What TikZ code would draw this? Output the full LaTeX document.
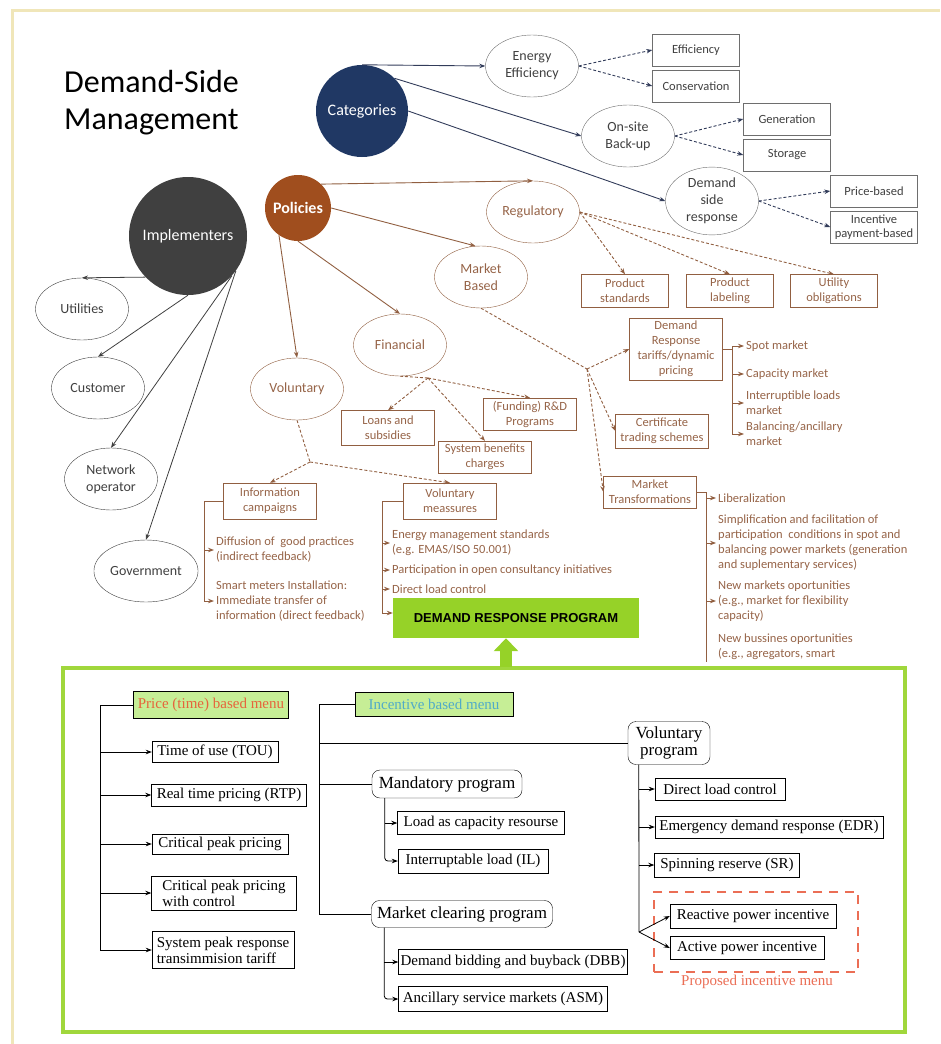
\documentclass[tikz,border=0pt]{standalone}
\usepackage{fontspec}
\setmainfont{Carlito}
\newfontfamily\timesfont{Liberation Serif}
\newfontfamily\arialfont{Liberation Sans}
\usepackage{tikz}
\usetikzlibrary{arrows.meta}
\usetikzlibrary{shapes.geometric}
\definecolor{beige}{RGB}{240,230,185}
\definecolor{catblue}{RGB}{32,56,100}
\definecolor{polbrown}{RGB}{160,78,30}
\definecolor{impgray}{RGB}{64,64,64}
\definecolor{darktext}{RGB}{64,64,64}
\definecolor{boxgray}{RGB}{110,110,110}
\definecolor{catline}{RGB}{50,60,90}
\definecolor{polline}{RGB}{145,95,65}
\definecolor{poltext}{RGB}{150,100,72}
\definecolor{drgreen}{RGB}{150,210,40}
\definecolor{framegreen}{RGB}{160,215,60}
\definecolor{menugreen}{RGB}{198,238,150}
\definecolor{priceorange}{RGB}{230,100,60}
\definecolor{incteal}{RGB}{80,170,200}
\definecolor{propred}{RGB}{235,110,85}

\begin{document}
\begin{tikzpicture}[x=1pt,y=-1pt]
	\useasboundingbox (0,0) rectangle (940,1044);
	\draw[beige, line width=3pt] (12,1044) -- (12,10) -- (940,10);

	\node[font=\fontsize{32}{37}\selectfont, align=left, anchor=north west, inner sep=0pt] (title) at (64,70) {Demand-Side\\Management};

	\begin{scope}[every node/.style={circle, inner sep=0pt, text=white, font=\fontsize{16}{18}\selectfont}]
		\node[fill=catblue, minimum size=92pt] (cat) at (362,111) {Categories};
		\node[fill=polbrown, minimum size=66pt] (pol) at (298,208) {\bfseries Policies};
		\node[fill=impgray, minimum size=118pt] (imp) at (188,236) {Implementers};
	\end{scope}

	\begin{scope}[every node/.style={draw=boxgray, text=darktext, align=center, inner sep=1pt},
	              oval/.style={ellipse, minimum width=93pt, minimum height=62pt, font=\fontsize{14}{17}\selectfont},
	              tag/.style={rectangle, minimum width=87pt, minimum height=32pt, font=\fontsize{12.5}{14}\selectfont}]
		\node[oval] (ee) at (532,66) {Energy\\Efficiency};
		\node[oval] (osb) at (628,136) {On-site\\Back-up};
		\node[oval] (dsr) at (712,201) {Demand\\side\\response};
		\node[tag] (eff) at (696,50) {Efficiency};
		\node[tag] (con) at (696,86) {Conservation};
		\node[tag] (gen) at (787,119) {Generation};
		\node[tag] (sto) at (787,155) {Storage};
		\node[tag] (prb) at (874,191) {Price-based};
		\node[tag] (ipb) at (874,227) {Incentive\\payment-based};
		\node[oval, draw=impgray] (utl) at (82,309) {Utilities};
		\node[oval, draw=impgray] (cus) at (98,388) {Customer};
		\node[oval, draw=impgray] (net) at (111,479) {Network\\operator};
		\node[oval, draw=impgray] (gov) at (146,571) {Government};
	\end{scope}

	\begin{scope}[>={Stealth[length=6pt,width=4.5pt]},
	              every edge/.style={draw=catline, line width=0.9pt}]
		\path (cat.north) edge[->] (ee.west);
		\path (cat.45) edge[->] (osb.west);
		\path (cat.east) edge[->] (dsr.west);
		\path (ee.east) edge[->, dash pattern=on 3pt off 2pt] (eff.west);
		\path (ee.east) edge[->, dash pattern=on 3pt off 2pt] (con.west);
		\path (osb.east) edge[->, dash pattern=on 3pt off 2pt] (gen.west);
		\path (osb.east) edge[->, dash pattern=on 3pt off 2pt] (sto.west);
		\path (dsr.east) edge[->, dash pattern=on 3pt off 2pt] (prb.west);
		\path (dsr.east) edge[->, dash pattern=on 3pt off 2pt] (ipb.west);
	\end{scope}

	\begin{scope}[>={Stealth[length=6pt,width=4.5pt]},
	              every edge/.style={draw=impgray, line width=0.8pt}]
		\path (imp.224) edge[->] (utl.north);
		\path (imp.south) edge[->] (cus.north);
		\path (imp.318) edge[->] (net.north);
		\path (imp.324) edge[->] (gov.north);
	\end{scope}

	\begin{scope}[every node/.style={draw=polline, text=poltext, align=center, inner sep=1pt},
	              oval/.style={ellipse, minimum width=93pt, minimum height=62pt, font=\fontsize{14}{17}\selectfont},
	              tag/.style={rectangle, minimum width=93pt, minimum height=32pt, font=\fontsize{12.5}{15}\selectfont}]
		\node[oval] (reg) at (533,212) {Regulatory};
		\node[oval] (mb) at (481,277) {Market\\Based};
		\node[oval] (fin) at (400,345) {Financial};
		\node[oval] (vol) at (297,389) {Voluntary};
		\node[tag, minimum width=87pt, minimum height=33pt] (ps) at (625,291) {Product\\standards};
		\node[tag, minimum width=87pt, minimum height=33pt] (pl) at (730,291) {Product\\labeling};
		\node[tag, minimum width=87pt, minimum height=33pt] (uo) at (834,291) {Utility\\obligations};
		\node[tag, minimum height=62pt] (drt) at (676,349) {Demand\\Response\\tariffs/dynamic\\pricing};
		\node[tag, minimum height=34pt] (cts) at (662,431) {Certificate\\trading schemes};
		\node[tag] (mt) at (650,492) {Market\\Transformations};
		\node[tag, minimum height=35pt] (las) at (388,428) {Loans and\\subsidies};
		\node[tag] (rd) at (530,414) {(Funding) R\&D\\Programs};
		\node[tag] (sbc) at (485,457) {System benefits\\charges};
		\node[tag, minimum height=36pt] (ic) at (270,501) {Information\\campaigns};
		\node[tag, minimum height=36pt] (vm) at (450,501) {Voluntary\\meassures};
	\end{scope}

	\begin{scope}[every node/.style={text=poltext, anchor=west, align=left, inner sep=2pt, font=\fontsize{12.5}{15}\selectfont}]
		\node (spm) at (744,346) {Spot market};
		\node (cpm) at (744,374) {Capacity market};
		\node (ilm) at (744,403) {Interruptible loads\\market};
		\node (bam) at (744,434) {Balancing/ancillary\\market};
		\node (dgp) at (214,550) {Diffusion of\ \ good practices\\(indirect feedback)};
		\node (smi) at (214,601) {Smart meters Installation:\\Immediate transfer of\\information (direct feedback)};
		\node (ems) at (390,543) {Energy management standards\\(e.g. EMAS/ISO 50.001)};
		\node (poc) at (390,570) {Participation in open consultancy initiatives};
		\node (dlc) at (390,589) {Direct load control};
		\node (lib) at (716,498) {Liberalization};
		\node (sfp) at (716,543) {Simplification and facilitation of\\participation\ \ conditions in spot and\\balancing power markets (generation\\and suplementary services)};
		\node (nmo) at (716,601) {New markets oportunities\\(e.g., market for flexibility\\capacity)};
		\begin{scope}
			\clip (700,620) rectangle (940,660);
			\node[anchor=north west] (nbo) at (716,632) {New bussines oportunities\\(e.g., agregators, smart};
		\end{scope}
	\end{scope}

	\coordinate (mbj) at (587,369);
	\coordinate (finj) at (428,378);
	\coordinate (volj) at (310,462);
	\coordinate (drtrail) at (732,346);
	\coordinate (icrail) at (204,501);
	\coordinate (vmrail) at (382,501);
	\coordinate (mtrail) at (706,492);

	\begin{scope}[>={Stealth[length=6pt,width=4.5pt]},
	              every edge/.style={draw=polline, line width=0.9pt},
	              ddash/.style={dash pattern=on 3pt off 2pt}]
		\path (pol.46) edge[->] (reg.north);
		\path (pol.east) edge[->] (mb.100);
		\path (pol.south) edge[->] (fin.north);
		\path (pol.235) edge[->] (vol.north);
		\path (reg.east) edge[->, ddash] (ps.north);
		\path (reg.east) edge[->, ddash] (pl.north);
		\path (reg.east) edge[->, ddash] (uo.north);
		\path (mb.south) edge[ddash] (mbj);
		\path (mbj) edge[->, ddash] (drt.west);
		\path (mbj) edge[->, ddash] (cts.west);
		\path (mbj) edge[->, ddash] (mt.west);
		\path (fin.south) edge[ddash] (finj);
		\path (finj) edge[->, ddash] (las.north);
		\path (finj) edge[->, ddash] (rd.north);
		\path (finj) edge[->, ddash] (sbc.north);
		\path (vol.south) edge[ddash] (volj);
		\path (volj) edge[->, ddash] (ic.north);
		\path (volj) edge[->, ddash] (vm.north);
		\draw[polline, line width=0.9pt] (drt.east) -- (drt.east -| drtrail);
		\draw[polline, line width=0.9pt] (drtrail) -- (drtrail |- bam.west);
		\draw[polline, line width=0.9pt] (ic.west) -- (icrail) -- (icrail |- smi.west);
		\draw[polline, line width=0.9pt] (vm.west) -- (vmrail) -- (vmrail |- 0,613);
		\draw[polline, line width=0.9pt] (mt.east) -- (mtrail) -- (706,662);
		\path (drtrail |- spm.west) edge[->] (spm.west);
		\path (drtrail |- cpm.west) edge[->] (cpm.west);
		\path (drtrail |- ilm.west) edge[->] (ilm.west);
		\path (drtrail |- bam.west) edge[->] (bam.west);
		\path (icrail |- dgp.west) edge[->] (dgp.west);
		\path (icrail |- smi.west) edge[->] (smi.west);
		\path (vmrail |- ems.west) edge[->] (ems.west);
		\path (vmrail |- poc.west) edge[->] (poc.west);
		\path (vmrail |- dlc.west) edge[->] (dlc.west);
		\path (mtrail |- lib.west) edge[->] (lib.west);
		\path (mtrail |- sfp.west) edge[->] (sfp.west);
		\path (mtrail |- nmo.west) edge[->] (nmo.west);
	\end{scope}

	\node[draw=framegreen, line width=4pt, fill=white, minimum width=842pt, minimum height=364pt, inner sep=0pt] (drframe) at (484,850) {};
	\node[fill=drgreen, minimum width=246pt, minimum height=40pt, inner sep=0pt, font=\arialfont\bfseries\fontsize{13}{15}\selectfont] (drp) at (516,618) {DEMAND RESPONSE PROGRAM};
	\draw[->, polline, line width=0.9pt, >={Stealth[length=6pt,width=4.5pt]}] (vmrail |- 0,613) -- ([yshift=5pt]drp.west);
	\coordinate (upfoot) at (506,667);
	\draw[drgreen, line width=12pt, -{Triangle[length=13pt,width=24pt]}] (upfoot) -- (upfoot |- drp.south);

	\begin{scope}[every node/.style={draw, rectangle, inner sep=2pt, align=left, font=\timesfont\fontsize{15}{16}\selectfont},
	              menu/.style={fill=menugreen},
	              prog/.style={rounded corners=8pt, font=\timesfont\fontsize{17}{17}\selectfont}]
		\node[menu, text=priceorange, minimum width=155pt, minimum height=27pt] (pbm) at (211,705) {Price (time) based menu};
		\node[minimum width=126pt, minimum height=21pt] (tou) at (215,752) {Time of use (TOU)};
		\node[minimum width=155pt, minimum height=22pt] (rtp) at (229,795) {Real time pricing (RTP)};
		\node[minimum width=136pt, minimum height=20pt] (cpp) at (220,844) {Critical peak pricing};
		\node[minimum width=145pt, minimum height=34pt] (cpc) at (224,893) {Critical peak pricing\\with control};
		\node[minimum width=142pt, minimum height=37pt] (spr) at (223,950) {System peak response\\transimmision tariff};
		\node[menu, text=incteal, minimum width=158pt, minimum height=24pt] (ibm) at (434,704) {Incentive based menu};
		\node[prog, minimum width=150pt, minimum height=28pt] (mand) at (447,784) {Mandatory program};
		\node[prog, minimum width=181pt, minimum height=27pt] (mcp) at (462,914) {Market clearing program};
		\node[minimum width=167pt, minimum height=23pt] (lcr) at (481,823) {Load as capacity resourse};
		\node[minimum width=150pt, minimum height=24pt] (ilo) at (473,861) {Interruptable load (IL)};
		\node[minimum width=229pt, minimum height=25pt] (dbb) at (513,962) {Demand bidding and buyback (DBB)};
		\node[minimum width=209pt, minimum height=25pt] (asm) at (503,999) {Ancillary service markets (ASM)};
		\node[prog, align=center, minimum width=82pt, minimum height=43pt] (volp) at (669,743) {Voluntary\\program};
		\node[minimum width=130pt, minimum height=22pt] (dlcb) at (720,789) {Direct load control};
		\node[minimum width=228pt, minimum height=22pt] (edr) at (769,827) {Emergency demand response (EDR)};
		\node[minimum width=145pt, minimum height=24pt] (srv) at (727,865) {Spinning reserve (SR)};
		\node[minimum width=166pt, minimum height=24pt] (rpi) at (753,916) {Reactive power incentive};
		\node[minimum width=154pt, minimum height=23pt] (api) at (747,948) {Active power incentive};
		\node[draw=propred, line width=1.5pt, dash pattern=on 9pt off 7pt, minimum width=204pt, minimum height=80pt] (prop) at (756,932) {};
		\node[draw=none, text=propred, align=center] (propl) at (757,982) {Proposed incentive menu};
	\end{scope}

	\coordinate (prail) at (100,705);
	\coordinate (irail) at (319,704);
	\coordinate (mrail) at ([xshift=13pt]mand.south west);
	\coordinate (crail) at ([xshift=13pt]mcp.south west);
	\coordinate (vrail) at ([xshift=11pt]volp.south west);
	\coordinate (vsplit) at (639,932);

	\begin{scope}[>={Stealth[length=6pt,width=4.5pt]},
	              every edge/.style={draw=black, line width=0.8pt}]
		\draw[line width=0.8pt] (pbm.west) -- (prail) -- (prail |- spr.west);
		\path (prail |- tou.west) edge[->] (tou.west);
		\path (prail |- rtp.west) edge[->] (rtp.west);
		\path (prail |- cpp.west) edge[->] (cpp.west);
		\path (prail |- cpc.west) edge[->] (cpc.west);
		\path (prail |- spr.west) edge[->] (spr.west);
		\draw[line width=0.8pt] (ibm.west) -- (irail) -- (irail |- mcp.west) -- (mcp.west);
		\path (irail |- volp.west) edge (volp.west);
		\path (irail |- mand.west) edge (mand.west);
		\draw[->, line width=0.8pt, rounded corners=3pt] (mrail) |- (ilo.west);
		\path (mrail |- lcr.west) edge[->] (lcr.west);
		\draw[->, line width=0.8pt, rounded corners=3pt] (crail) |- (asm.west);
		\path (crail |- dbb.west) edge[->] (dbb.west);
		\draw[line width=0.8pt] (vrail) -- (vsplit);
		\path (vrail |- dlcb.west) edge[->] (dlcb.west);
		\path (vrail |- edr.west) edge[->] (edr.west);
		\path (vrail |- srv.west) edge[->] (srv.west);
		\path (vsplit) edge[->] (rpi.west);
		\path (vsplit) edge[->] (api.west);
	\end{scope}
\end{tikzpicture}
\end{document}
